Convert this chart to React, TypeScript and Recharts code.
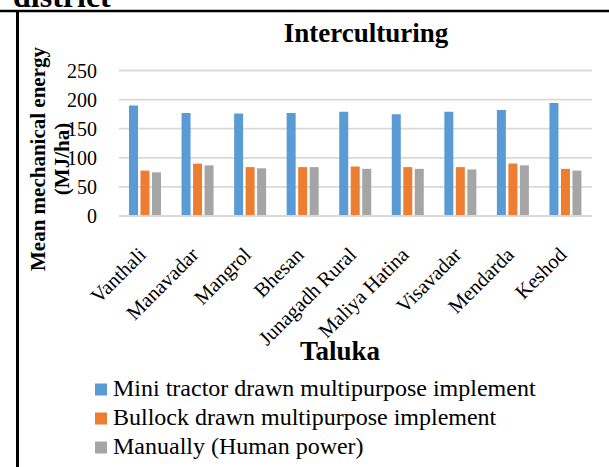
import React from 'react';
import { BarChart, Bar, XAxis, YAxis, CartesianGrid, Legend } from 'recharts';

const talukas = ['Vanthali', 'Manavadar', 'Mangrol', 'Bhesan', 'Junagadh Rural', 'Maliya Hatina', 'Visavadar', 'Mendarda', 'Keshod'];
const miniTractor = [190, 177, 176, 177, 179, 175, 179, 182, 194];
const bullock = [78, 90, 84, 84, 85, 84, 84, 90, 81];
const manual = [75, 87, 82, 84, 81, 81, 80, 87, 78];
const yTicks = [0, 50, 100, 150, 200, 250];

const seriesNames = ['Mini tractor drawn multipurpose implement', 'Bullock drawn multipurpose implement', 'Manually (Human power)'];
const seriesColors = ['#5b9bd5', '#ed7d31', '#a5a5a5'];

const data = talukas.map((t, i) => ({ name: t, mini: miniTractor[i], bullock: bullock[i], manual: manual[i] }));

const SERIF = '"Liberation Serif", "Times New Roman", Times, serif';

const XTick = (props: any) => {
  const { x, y, payload } = props;
  return (
    <text
      transform={`translate(${x + 2},${y + 40}) rotate(-45)`}
      textAnchor="end"
      fontSize={20.5}
      fontFamily={SERIF}
      fill="#000"
    >
      {payload.value}
    </text>
  );
};

const LegendContent = () => (
  <svg width={609} height={90} style={{ display: 'block' }}>
    {seriesNames.map((n, i) => (
      <g key={n}>
        <rect x={95} y={8.5 + i * 29} width={12} height={12} fill={seriesColors[i]} />
        <text x={113} y={21 + i * 29} fontSize={24} fontFamily={SERIF} fill="#000">
          {n}
        </text>
      </g>
    ))}
  </svg>
);

export default function App() {
  return (
    <div style={{ position: 'absolute', left: 0, top: 0, width: 609, height: 467, background: '#fff', overflow: 'hidden' }}>
      <svg width={609} height={467} style={{ position: 'absolute', left: 0, top: 0 }}>
        <text x={13} y={7} fontSize={32} fontWeight="bold" fontFamily={SERIF} fill="#000">district</text>
        <line x1={0} y1={11} x2={609} y2={11} stroke="#000" strokeWidth={2.5} />
        <line x1={17.5} y1={10} x2={17.5} y2={467} stroke="#000" strokeWidth={3} />
        <text x={366} y={42} textAnchor="middle" fontSize={27} fontWeight="bold" fontFamily={SERIF} fill="#000">
          Interculturing
        </text>
        <text x={340} y={360} textAnchor="middle" fontSize={27} fontWeight="bold" fontFamily={SERIF} fill="#000">
          Taluka
        </text>
        <g transform="translate(38,159) rotate(-90)">
          <text x={0} y={0} textAnchor="middle" dominantBaseline="central" fontSize={21} fontWeight="bold" fontFamily={SERIF} fill="#000">
            Mean mechanical energy
          </text>
        </g>
        <g transform="translate(62,159) rotate(-90)">
          <text x={0} y={0} textAnchor="middle" dominantBaseline="central" fontSize={21} fontWeight="bold" fontFamily={SERIF} fill="#000">
            (MJ/ha)
          </text>
        </g>
      </svg>
      <div style={{ position: 'absolute', left: 0, top: 0 }}>
        <BarChart
          width={609}
          height={467}
          data={data}
          margin={{ top: 70.5, right: 17, bottom: 0, left: 0 }}
          barSize={9}
          barGap={2.5}
        >
          <CartesianGrid vertical={false} stroke="#d9d9d9" strokeWidth={1.8} />
          <XAxis
            dataKey="name"
            height={251}
            interval={0}
            tickLine={false}
            tickSize={0}
            tickMargin={0}
            axisLine={{ stroke: '#d9d9d9', strokeWidth: 2.2 }}
            tick={<XTick />}
          />
          <YAxis
            width={119}
            domain={[0, 250]}
            ticks={yTicks}
            axisLine={false}
            tickLine={false}
            tickSize={0}
            tickMargin={22}
            tick={{ fontSize: 20, fontFamily: SERIF, fill: '#000' }}
          />
          <Legend
            layout="vertical"
            align="center"
            verticalAlign="middle"
            wrapperStyle={{ left: 0, top: 375, width: 609 }}
            content={<LegendContent />}
          />
          <Bar dataKey="mini" name={seriesNames[0]} fill={seriesColors[0]} isAnimationActive={false} />
          <Bar dataKey="bullock" name={seriesNames[1]} fill={seriesColors[1]} isAnimationActive={false} />
          <Bar dataKey="manual" name={seriesNames[2]} fill={seriesColors[2]} isAnimationActive={false} />
        </BarChart>
      </div>
    </div>
  );
}
